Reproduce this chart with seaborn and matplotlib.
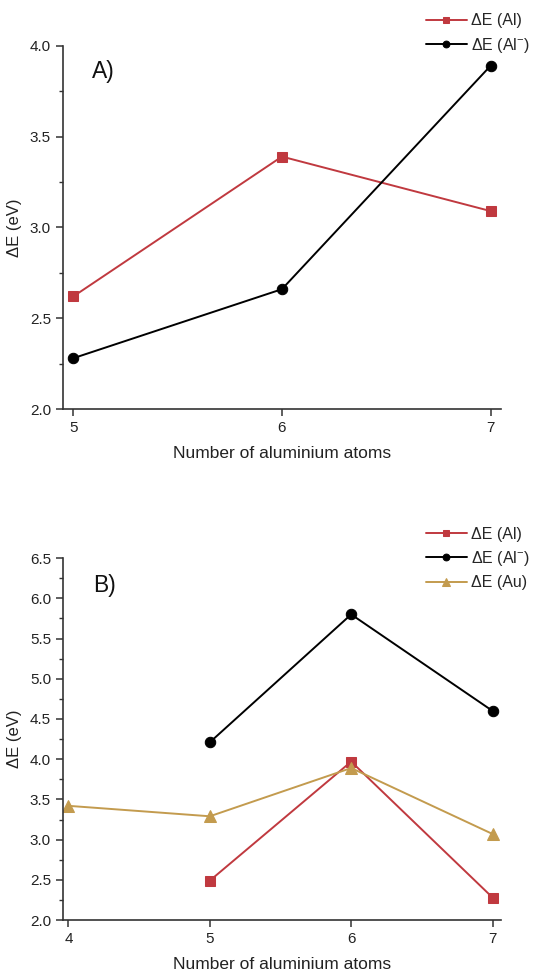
import matplotlib
matplotlib.use("Agg")
import matplotlib.pyplot as plt
import seaborn as sns
import pandas as pd
from matplotlib.ticker import MultipleLocator

sns.set_theme(style="ticks")
plt.rcParams['font.family'] = ['Liberation Sans', 'DejaVu Sans']
plt.rcParams['mathtext.fontset'] = 'custom'
plt.rcParams['mathtext.rm'] = 'Liberation Sans'
plt.rcParams['mathtext.it'] = 'Liberation Sans'
plt.rcParams['mathtext.default'] = 'regular'

# Panel A data
a_x = [5, 6, 7]
a_al = [2.62, 3.39, 3.09]
a_alm = [2.28, 2.66, 3.89]

# Panel B data
b_x_al = [5, 6, 7]
b_al = [2.49, 3.97, 2.28]
b_alm = [4.21, 5.80, 4.60]
b_x_au = [4, 5, 6, 7]
b_au = [3.42, 3.29, 3.89, 3.07]

lab_al = "ΔE (Al)"
lab_alm = "ΔE (Al$^{-}$)"
lab_au = "ΔE (Au)"
xlabel = "Number of aluminium atoms"
ylabel = "ΔE (eV)"

RED = "#c0393f"
BLACK = "#000000"
GOLD = "#c39b4e"

fig = plt.figure(figsize=(5.37, 9.74), dpi=100)
axA = fig.add_axes([0.117, 0.580, 0.816, 0.373])
axB = fig.add_axes([0.117, 0.0554, 0.816, 0.3716])

def style(ax):
    sns.despine(ax=ax)
    for s in ("left", "bottom"):
        ax.spines[s].set_color("#333333")
        ax.spines[s].set_linewidth(1.2)
    ax.tick_params(axis="both", which="major", direction="out", length=5, width=1.1,
                   colors="#333333", labelcolor="#222222", labelsize=11)
    ax.tick_params(axis="y", which="minor", direction="out", length=3, width=1.0, colors="#333333")
    ax.set_xlabel(xlabel, fontsize=12.5, color="#222222", labelpad=8)
    ax.set_ylabel(ylabel, fontsize=12, color="#222222", labelpad=6)

def legend(ax, top):
    ax.legend(loc="upper right", bbox_to_anchor=(1.005, top), bbox_transform=fig.transFigure,
              frameon=False, fontsize=11.5, handlelength=2.6, handletextpad=0.25,
              labelspacing=0.45, borderaxespad=0.2, markerscale=0.65)

SQ = dict(marker="s", markersize=6.5, linewidth=1.4)
CI = dict(marker="o", markersize=7.5, linewidth=1.4)
TR = dict(marker="^", markersize=8, linewidth=1.4)

# Panel A
dfA1 = pd.DataFrame({"x": a_x, "y": a_al})
dfA2 = pd.DataFrame({"x": a_x, "y": a_alm})
sns.lineplot(data=dfA1, x="x", y="y", ax=axA, color=RED, markeredgecolor=RED, label=lab_al, **SQ)
sns.lineplot(data=dfA2, x="x", y="y", ax=axA, color=BLACK, markeredgecolor=BLACK, label=lab_alm, **CI)
axA.set_xlim(4.95, 7.05)
axA.set_ylim(2.0, 4.0)
axA.set_xticks([5, 6, 7])
axA.set_yticks([2.0, 2.5, 3.0, 3.5, 4.0])
axA.yaxis.set_minor_locator(MultipleLocator(0.25))
style(axA)
axA.text(0.066, 0.96, "A)", transform=axA.transAxes, fontsize=16.5, va="top", color="#111111")
legend(axA, 0.996)

# Panel B
dfB1 = pd.DataFrame({"x": b_x_al, "y": b_al})
dfB2 = pd.DataFrame({"x": b_x_al, "y": b_alm})
dfB3 = pd.DataFrame({"x": b_x_au, "y": b_au})
sns.lineplot(data=dfB1, x="x", y="y", ax=axB, color=RED, markeredgecolor=RED, label=lab_al, **SQ)
sns.lineplot(data=dfB2, x="x", y="y", ax=axB, color=BLACK, markeredgecolor=BLACK, label=lab_alm, **CI)
sns.lineplot(data=dfB3, x="x", y="y", ax=axB, color=GOLD, markeredgecolor=GOLD, label=lab_au, **TR)
axB.set_xlim(3.96, 7.06)
axB.set_ylim(2.0, 6.5)
axB.set_xticks([4, 5, 6, 7])
axB.set_yticks([2.0, 2.5, 3.0, 3.5, 4.0, 4.5, 5.0, 5.5, 6.0, 6.5])
axB.yaxis.set_minor_locator(MultipleLocator(0.25))
style(axB)
axB.text(0.068, 0.955, "B)", transform=axB.transAxes, fontsize=16.5, va="top", color="#111111")
legend(axB, 0.469)

fig.savefig("out.png", dpi=100, facecolor="white")
